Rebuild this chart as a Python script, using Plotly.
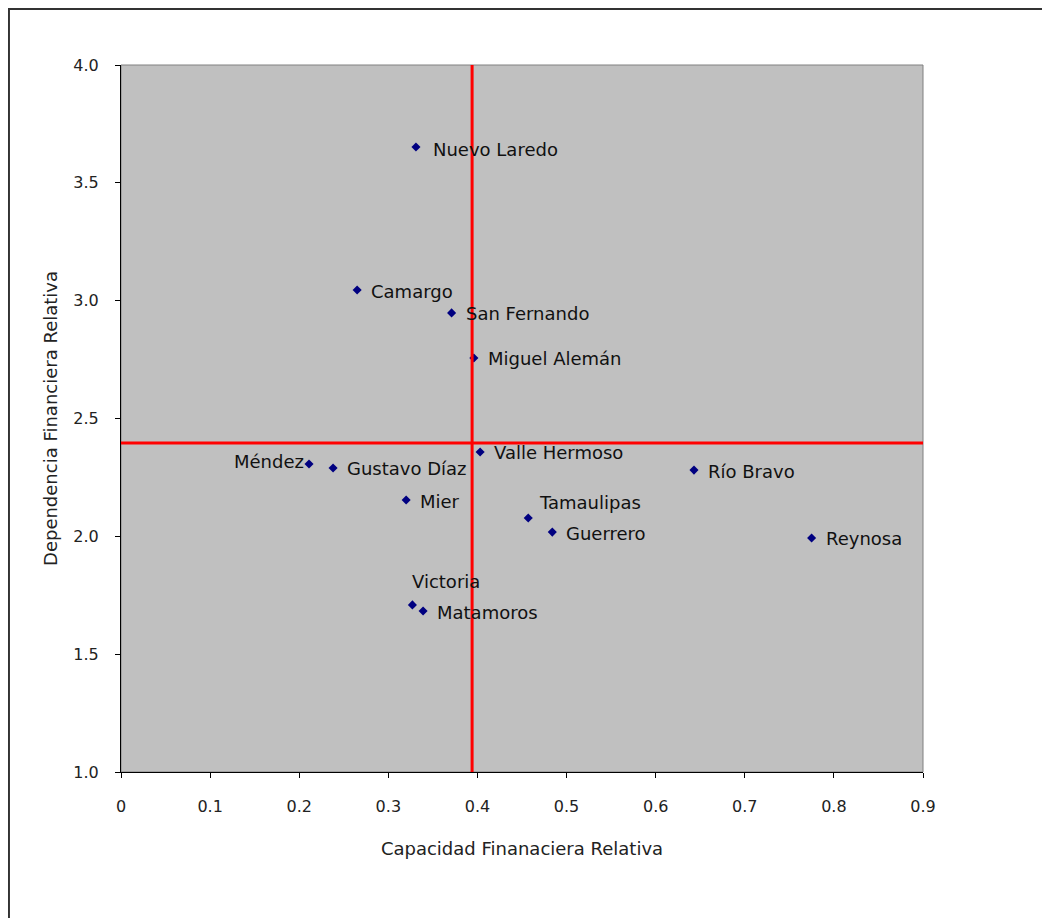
import plotly.graph_objects as go

municipios = ["Nuevo Laredo", "Camargo", "San Fernando", "Miguel Alemán", "Valle Hermoso",
              "Méndez", "Gustavo Díaz", "Mier", "Tamaulipas", "Guerrero",
              "Río Bravo", "Reynosa", "Victoria", "Matamoros"]
capacidad = [0.331, 0.265, 0.371, 0.396, 0.403, 0.211, 0.238, 0.320, 0.457, 0.484,
             0.643, 0.775, 0.327, 0.339]
dependencia = [3.652, 3.045, 2.948, 2.757, 2.358, 2.307, 2.290, 2.154, 2.078, 2.018,
               2.281, 1.993, 1.709, 1.683]
ref_capacidad = 0.394
ref_dependencia = 2.396

x_ticks = [0, 0.1, 0.2, 0.3, 0.4, 0.5, 0.6, 0.7, 0.8, 0.9]
x_ticklabels = ["0", "0.1", "0.2", "0.3", "0.4", "0.5", "0.6", "0.7", "0.8", "0.9"]
y_ticks = [1.0, 1.5, 2.0, 2.5, 3.0, 3.5, 4.0]
y_ticklabels = ["1.0", "1.5", "2.0", "2.5", "3.0", "3.5", "4.0"]

FONT = "DejaVu Sans"

fig = go.Figure()
fig.add_trace(go.Scatter(
    x=capacidad, y=dependencia, mode="markers",
    marker=dict(symbol="diamond", size=7, color="#000080"),
    hoverinfo="text", text=municipios, showlegend=False,
))

# label placements (xanchor, xshift, yshift)
placement = {
    "Méndez": ("right", -3, 2),
    "Victoria": ("left", -2, 23),
    "Tamaulipas": ("left", 9, 15),
    "Nuevo Laredo": ("left", 15, -2),
}
for name, xv, yv in zip(municipios, capacidad, dependencia):
    anc, xs, ys = placement.get(name, ("left", 12, -1))
    fig.add_annotation(
        x=xv, y=yv, text=name, showarrow=False,
        xanchor=anc, yanchor="middle", xshift=xs, yshift=ys,
        font=dict(family=FONT, size=18, color="#111111"),
    )

# plot area frame (grey top/right)
fig.add_shape(type="rect", xref="paper", yref="paper", x0=0, x1=1, y0=0, y1=1,
              line=dict(color="#808080", width=1), layer="below")
# outer chart border
fig.add_shape(type="rect", xref="paper", yref="paper", x0=-0.1397, x1=2, y0=-2, y1=1.0792,
              line=dict(color="#333333", width=2), fillcolor="rgba(0,0,0,0)", layer="below")
# reference lines
fig.add_shape(type="line", xref="x", yref="y", x0=ref_capacidad, x1=ref_capacidad, y0=1.0, y1=4.0,
              line=dict(color="#ff0000", width=3), layer="above")
fig.add_shape(type="line", xref="x", yref="y", x0=0, x1=0.902, y0=ref_dependencia, y1=ref_dependencia,
              line=dict(color="#ff0000", width=3), layer="above")

fig.update_layout(
    width=1042, height=910,
    margin=dict(l=113, r=127, t=57, b=146),
    paper_bgcolor="white", plot_bgcolor="#c0c0c0",
    font=dict(family=FONT, color="#222222"),
    xaxis=dict(
        range=[0, 0.9], tickmode="array", tickvals=x_ticks, ticktext=x_ticklabels,
        showgrid=False, zeroline=False, showline=True, linecolor="black", linewidth=1,
        ticks="outside", ticklen=5, tickcolor="black", ticklabelstandoff=15,
        tickfont=dict(family=FONT, size=16, color="#222222"),
        title=dict(text="Capacidad Finanaciera Relativa", standoff=27,
                   font=dict(family=FONT, size=18, color="#222222")),
    ),
    yaxis=dict(
        range=[1.0, 4.0], tickmode="array", tickvals=y_ticks, ticktext=y_ticklabels,
        showgrid=False, zeroline=False, showline=True, linecolor="black", linewidth=1,
        ticks="outside", ticklen=5, tickcolor="black", ticklabelstandoff=13,
        tickfont=dict(family=FONT, size=16, color="#222222"),
        title=dict(text="Dependencia Financiera Relativa", standoff=11,
                   font=dict(family=FONT, size=18, color="#222222")),
    ),
)

fig.write_html("out.html")
